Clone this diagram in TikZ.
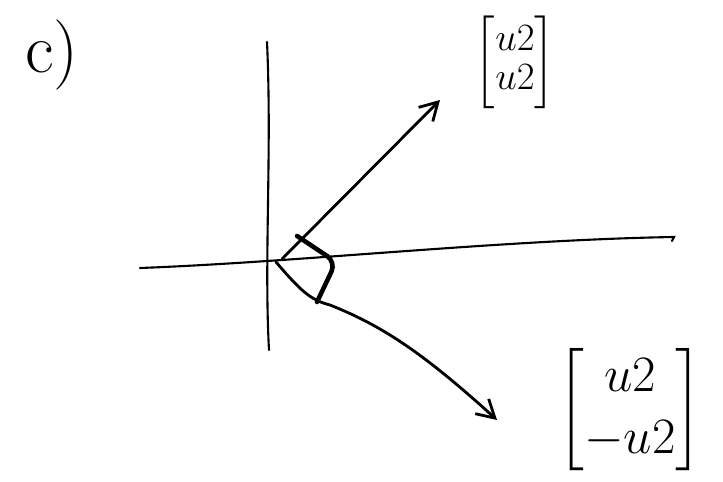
\documentclass[tikz,border=0pt]{standalone}
\usepackage{fix-cm}
\usepackage{amsmath,amssymb}
\usepackage{tikz}
\usetikzlibrary{positioning,arrows.meta}

\begin{document}
\begin{tikzpicture}[
x=0.02cm, y=-0.02cm,
axis/.style={line width=1.2pt, line cap=round},
vec/.style={-{Straight Barb[length=3.5mm, width=4mm]}, line width=1.6pt, line cap=round},
rightmark/.style={line width=2.6pt, line cap=round, rounded corners=6pt},
lbl/.style={inner sep=0pt}
]
\useasboundingbox (0,0) rectangle (723,482);
\node[lbl, font=\fontsize{40}{40}\selectfont] (part) at (52,55) {c)};
% axes
\coordinate (ytop) at (267,42);
\coordinate (ybot) at (269,350);
\coordinate (xleft) at (140,268);
\coordinate (xright) at (674,237);
\coordinate (origin) at (276,262);
\draw[axis] (ytop) .. controls (272,150) and (264,260) .. (ybot);
\draw[axis] (xleft) .. controls (300,262) and (500,240) .. (xright) -- ++(-2,4);
% vectors
\coordinate (tipA) at (440,100);
\coordinate (tipB) at (497,420);
\draw[vec] (origin) ++(6,-3) -- (tipA);
\draw[vec] (origin) .. controls (300,290) and (310,300) .. (330,305)
  .. controls (380,325) and (420,350) .. (tipB);
% right angle mark
\draw[rightmark] (297,236) -- (336,262) -- (317,302);
% labels
\node[lbl, font=\fontsize{22}{22}\selectfont] (vecA) at (515,62)
  {$\begin{bmatrix} u2\\ u2\end{bmatrix}$};
\node[lbl, font=\fontsize{29}{35}\selectfont] (vecB) at (630,410)
  {$\begin{bmatrix} u2\\ -u2\end{bmatrix}$};
\end{tikzpicture}
\end{document}
